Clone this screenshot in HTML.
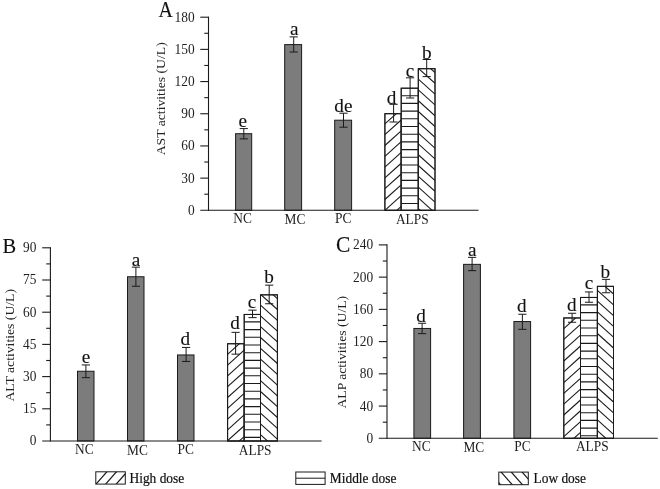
<!DOCTYPE html>
<html><head><meta charset="utf-8"><title>Figure</title>
<style>
html,body{margin:0;padding:0;background:#fff;}
body{width:660px;height:489px;overflow:hidden;}
svg{display:block;font-family:"Liberation Serif",serif;will-change:transform;}
svg text{fill:#222;stroke:none;}
svg text.G{fill:#111;stroke:#111;stroke-width:0.2px;}
svg text.L{fill:#111;stroke:#111;stroke-width:0.12px;}
</style></head><body>
<svg width="660" height="489" viewBox="0 0 660 489" stroke="#1a1a1a" fill="none">
<rect x="0" y="0" width="660" height="489" fill="#fff" stroke="none"/>
<rect x="235.60" y="133.70" width="16.10" height="76.60" fill="#7c7c7c" stroke-width="1.0"/>
<rect x="284.70" y="44.60" width="16.90" height="165.70" fill="#7c7c7c" stroke-width="1.0"/>
<rect x="334.70" y="120.20" width="16.90" height="90.10" fill="#7c7c7c" stroke-width="1.0"/>
<clipPath id="c1"><rect x="384.90" y="113.70" width="16.30" height="96.60"/></clipPath>
<rect x="384.90" y="113.70" width="16.30" height="96.60" fill="#fff" stroke-width="1.0"/>
<g clip-path="url(#c1)"><line x1="384.90" y1="80.70" x2="401.20" y2="66.03" stroke-width="1.1"/><line x1="384.90" y1="91.50" x2="401.20" y2="76.83" stroke-width="1.1"/><line x1="384.90" y1="102.30" x2="401.20" y2="87.63" stroke-width="1.1"/><line x1="384.90" y1="113.10" x2="401.20" y2="98.43" stroke-width="1.1"/><line x1="384.90" y1="123.90" x2="401.20" y2="109.23" stroke-width="1.1"/><line x1="384.90" y1="134.70" x2="401.20" y2="120.03" stroke-width="1.1"/><line x1="384.90" y1="145.50" x2="401.20" y2="130.83" stroke-width="1.1"/><line x1="384.90" y1="156.30" x2="401.20" y2="141.63" stroke-width="1.1"/><line x1="384.90" y1="167.10" x2="401.20" y2="152.43" stroke-width="1.1"/><line x1="384.90" y1="177.90" x2="401.20" y2="163.23" stroke-width="1.1"/><line x1="384.90" y1="188.70" x2="401.20" y2="174.03" stroke-width="1.1"/><line x1="384.90" y1="199.50" x2="401.20" y2="184.83" stroke-width="1.1"/><line x1="384.90" y1="210.30" x2="401.20" y2="195.63" stroke-width="1.1"/><line x1="384.90" y1="221.10" x2="401.20" y2="206.43" stroke-width="1.1"/><line x1="384.90" y1="231.90" x2="401.20" y2="217.23" stroke-width="1.1"/></g>
<rect x="384.90" y="113.70" width="16.30" height="96.60" fill="none" stroke-width="1.0"/>
<clipPath id="c2"><rect x="401.20" y="88.20" width="17.10" height="122.10"/></clipPath>
<rect x="401.20" y="88.20" width="17.10" height="122.10" fill="#fff" stroke-width="1.0"/>
<g clip-path="url(#c2)"><line x1="401.20" y1="95.70" x2="418.30" y2="95.70" stroke-width="1.1"/><line x1="401.20" y1="103.40" x2="418.30" y2="103.40" stroke-width="1.1"/><line x1="401.20" y1="111.10" x2="418.30" y2="111.10" stroke-width="1.1"/><line x1="401.20" y1="118.80" x2="418.30" y2="118.80" stroke-width="1.1"/><line x1="401.20" y1="126.50" x2="418.30" y2="126.50" stroke-width="1.1"/><line x1="401.20" y1="134.20" x2="418.30" y2="134.20" stroke-width="1.1"/><line x1="401.20" y1="141.90" x2="418.30" y2="141.90" stroke-width="1.1"/><line x1="401.20" y1="149.60" x2="418.30" y2="149.60" stroke-width="1.1"/><line x1="401.20" y1="157.30" x2="418.30" y2="157.30" stroke-width="1.1"/><line x1="401.20" y1="165.00" x2="418.30" y2="165.00" stroke-width="1.1"/><line x1="401.20" y1="172.70" x2="418.30" y2="172.70" stroke-width="1.1"/><line x1="401.20" y1="180.40" x2="418.30" y2="180.40" stroke-width="1.1"/><line x1="401.20" y1="188.10" x2="418.30" y2="188.10" stroke-width="1.1"/><line x1="401.20" y1="195.80" x2="418.30" y2="195.80" stroke-width="1.1"/><line x1="401.20" y1="203.50" x2="418.30" y2="203.50" stroke-width="1.1"/></g>
<rect x="401.20" y="88.20" width="17.10" height="122.10" fill="none" stroke-width="1.0"/>
<clipPath id="c3"><rect x="418.30" y="68.70" width="16.70" height="141.60"/></clipPath>
<rect x="418.30" y="68.70" width="16.70" height="141.60" fill="#fff" stroke-width="1.0"/>
<g clip-path="url(#c3)"><line x1="418.30" y1="35.90" x2="435.00" y2="50.93" stroke-width="1.1"/><line x1="418.30" y1="46.70" x2="435.00" y2="61.73" stroke-width="1.1"/><line x1="418.30" y1="57.50" x2="435.00" y2="72.53" stroke-width="1.1"/><line x1="418.30" y1="68.30" x2="435.00" y2="83.33" stroke-width="1.1"/><line x1="418.30" y1="79.10" x2="435.00" y2="94.13" stroke-width="1.1"/><line x1="418.30" y1="89.90" x2="435.00" y2="104.93" stroke-width="1.1"/><line x1="418.30" y1="100.70" x2="435.00" y2="115.73" stroke-width="1.1"/><line x1="418.30" y1="111.50" x2="435.00" y2="126.53" stroke-width="1.1"/><line x1="418.30" y1="122.30" x2="435.00" y2="137.33" stroke-width="1.1"/><line x1="418.30" y1="133.10" x2="435.00" y2="148.13" stroke-width="1.1"/><line x1="418.30" y1="143.90" x2="435.00" y2="158.93" stroke-width="1.1"/><line x1="418.30" y1="154.70" x2="435.00" y2="169.73" stroke-width="1.1"/><line x1="418.30" y1="165.50" x2="435.00" y2="180.53" stroke-width="1.1"/><line x1="418.30" y1="176.30" x2="435.00" y2="191.33" stroke-width="1.1"/><line x1="418.30" y1="187.10" x2="435.00" y2="202.13" stroke-width="1.1"/><line x1="418.30" y1="197.90" x2="435.00" y2="212.93" stroke-width="1.1"/><line x1="418.30" y1="208.70" x2="435.00" y2="223.73" stroke-width="1.1"/><line x1="418.30" y1="219.50" x2="435.00" y2="234.53" stroke-width="1.1"/><line x1="418.30" y1="230.30" x2="435.00" y2="245.33" stroke-width="1.1"/></g>
<rect x="418.30" y="68.70" width="16.70" height="141.60" fill="none" stroke-width="1.0"/>
<line x1="243.80" y1="128.60" x2="243.80" y2="138.90" stroke-width="1.0"/>
<line x1="239.70" y1="128.60" x2="247.90" y2="128.60" stroke-width="1.0"/>
<line x1="239.70" y1="138.90" x2="247.90" y2="138.90" stroke-width="1.0"/>
<text transform="translate(238.59,126.70) scale(1,1.02)" font-size="19.2" class="L">e</text>
<line x1="293.70" y1="36.90" x2="293.70" y2="52.00" stroke-width="1.0"/>
<line x1="289.60" y1="36.90" x2="297.80" y2="36.90" stroke-width="1.0"/>
<line x1="289.60" y1="52.00" x2="297.80" y2="52.00" stroke-width="1.0"/>
<text transform="translate(290.03,34.70) scale(1,1.02)" font-size="19.2" class="L">a</text>
<line x1="343.50" y1="113.20" x2="343.50" y2="127.20" stroke-width="1.0"/>
<line x1="339.40" y1="113.20" x2="347.60" y2="113.20" stroke-width="1.0"/>
<line x1="339.40" y1="127.20" x2="347.60" y2="127.20" stroke-width="1.0"/>
<text transform="translate(334.31,111.70) scale(1,1.02)" font-size="19.2" class="L">de</text>
<line x1="393.60" y1="104.30" x2="393.60" y2="122.00" stroke-width="1.0"/>
<line x1="389.50" y1="104.30" x2="397.70" y2="104.30" stroke-width="1.0"/>
<line x1="389.50" y1="122.00" x2="397.70" y2="122.00" stroke-width="1.0"/>
<text transform="translate(386.77,104.30) scale(1,1.02)" font-size="19.2" class="L">d</text>
<line x1="410.10" y1="77.80" x2="410.10" y2="98.00" stroke-width="1.0"/>
<line x1="406.00" y1="77.80" x2="414.20" y2="77.80" stroke-width="1.0"/>
<line x1="406.00" y1="98.00" x2="414.20" y2="98.00" stroke-width="1.0"/>
<text transform="translate(405.66,77.40) scale(1,1.02)" font-size="19.2" class="L">c</text>
<line x1="426.70" y1="59.50" x2="426.70" y2="76.60" stroke-width="1.0"/>
<line x1="422.60" y1="59.50" x2="430.80" y2="59.50" stroke-width="1.0"/>
<line x1="422.60" y1="76.60" x2="430.80" y2="76.60" stroke-width="1.0"/>
<text transform="translate(422.06,59.40) scale(1,1.02)" font-size="19.2" class="L">b</text>
<line x1="208.50" y1="16.65" x2="208.50" y2="210.85" stroke-width="1.1"/>
<line x1="200.30" y1="210.30" x2="478.50" y2="210.30" stroke-width="1.1"/>
<line x1="200.30" y1="17.20" x2="208.50" y2="17.20" stroke-width="1.1"/>
<line x1="204.30" y1="33.29" x2="208.50" y2="33.29" stroke-width="1.1"/>
<text transform="translate(174.54,21.65) scale(1,1.12)" font-size="13.4">180</text>
<line x1="200.30" y1="49.38" x2="208.50" y2="49.38" stroke-width="1.1"/>
<line x1="204.30" y1="65.48" x2="208.50" y2="65.48" stroke-width="1.1"/>
<text transform="translate(174.54,53.83) scale(1,1.12)" font-size="13.4">150</text>
<line x1="200.30" y1="81.57" x2="208.50" y2="81.57" stroke-width="1.1"/>
<line x1="204.30" y1="97.66" x2="208.50" y2="97.66" stroke-width="1.1"/>
<text transform="translate(174.54,86.02) scale(1,1.12)" font-size="13.4">120</text>
<line x1="200.30" y1="113.75" x2="208.50" y2="113.75" stroke-width="1.1"/>
<line x1="204.30" y1="129.84" x2="208.50" y2="129.84" stroke-width="1.1"/>
<text transform="translate(181.22,118.20) scale(1,1.12)" font-size="13.4">90</text>
<line x1="200.30" y1="145.93" x2="208.50" y2="145.93" stroke-width="1.1"/>
<line x1="204.30" y1="162.03" x2="208.50" y2="162.03" stroke-width="1.1"/>
<text transform="translate(181.22,150.38) scale(1,1.12)" font-size="13.4">60</text>
<line x1="200.30" y1="178.12" x2="208.50" y2="178.12" stroke-width="1.1"/>
<line x1="204.30" y1="194.21" x2="208.50" y2="194.21" stroke-width="1.1"/>
<text transform="translate(181.22,182.57) scale(1,1.12)" font-size="13.4">30</text>
<text transform="translate(187.91,214.75) scale(1,1.12)" font-size="13.4">0</text>
<text transform="translate(233.28,222.70) scale(1,1.12)" font-size="13.4">NC</text>
<text transform="translate(284.48,223.60) scale(1,1.12)" font-size="13.4">MC</text>
<text transform="translate(335.00,222.70) scale(1,1.12)" font-size="13.4">PC</text>
<text transform="translate(395.90,223.70) scale(1,1.12)" font-size="13.4">ALPS</text>
<text transform="translate(165.20,155.32) rotate(-90) scale(1,0.97)" font-size="13.7">AST activities (U/L)</text>
<text transform="translate(158.51,17.00) scale(1,1.135)" font-size="19.9" class="L">A</text>
<rect x="77.50" y="371.25" width="16.50" height="69.75" fill="#7c7c7c" stroke-width="1.0"/>
<rect x="127.50" y="276.75" width="16.50" height="164.25" fill="#7c7c7c" stroke-width="1.0"/>
<rect x="177.50" y="354.95" width="16.50" height="86.05" fill="#7c7c7c" stroke-width="1.0"/>
<clipPath id="c4"><rect x="227.60" y="343.75" width="16.60" height="97.25"/></clipPath>
<rect x="227.60" y="343.75" width="16.60" height="97.25" fill="#fff" stroke-width="1.0"/>
<g clip-path="url(#c4)"><line x1="227.60" y1="311.10" x2="244.20" y2="296.16" stroke-width="1.1"/><line x1="227.60" y1="321.90" x2="244.20" y2="306.96" stroke-width="1.1"/><line x1="227.60" y1="332.70" x2="244.20" y2="317.76" stroke-width="1.1"/><line x1="227.60" y1="343.50" x2="244.20" y2="328.56" stroke-width="1.1"/><line x1="227.60" y1="354.30" x2="244.20" y2="339.36" stroke-width="1.1"/><line x1="227.60" y1="365.10" x2="244.20" y2="350.16" stroke-width="1.1"/><line x1="227.60" y1="375.90" x2="244.20" y2="360.96" stroke-width="1.1"/><line x1="227.60" y1="386.70" x2="244.20" y2="371.76" stroke-width="1.1"/><line x1="227.60" y1="397.50" x2="244.20" y2="382.56" stroke-width="1.1"/><line x1="227.60" y1="408.30" x2="244.20" y2="393.36" stroke-width="1.1"/><line x1="227.60" y1="419.10" x2="244.20" y2="404.16" stroke-width="1.1"/><line x1="227.60" y1="429.90" x2="244.20" y2="414.96" stroke-width="1.1"/><line x1="227.60" y1="440.70" x2="244.20" y2="425.76" stroke-width="1.1"/><line x1="227.60" y1="451.50" x2="244.20" y2="436.56" stroke-width="1.1"/><line x1="227.60" y1="462.30" x2="244.20" y2="447.36" stroke-width="1.1"/></g>
<rect x="227.60" y="343.75" width="16.60" height="97.25" fill="none" stroke-width="1.0"/>
<clipPath id="c5"><rect x="244.20" y="314.45" width="16.30" height="126.55"/></clipPath>
<rect x="244.20" y="314.45" width="16.30" height="126.55" fill="#fff" stroke-width="1.0"/>
<g clip-path="url(#c5)"><line x1="244.20" y1="321.90" x2="260.50" y2="321.90" stroke-width="1.1"/><line x1="244.20" y1="329.60" x2="260.50" y2="329.60" stroke-width="1.1"/><line x1="244.20" y1="337.30" x2="260.50" y2="337.30" stroke-width="1.1"/><line x1="244.20" y1="345.00" x2="260.50" y2="345.00" stroke-width="1.1"/><line x1="244.20" y1="352.70" x2="260.50" y2="352.70" stroke-width="1.1"/><line x1="244.20" y1="360.40" x2="260.50" y2="360.40" stroke-width="1.1"/><line x1="244.20" y1="368.10" x2="260.50" y2="368.10" stroke-width="1.1"/><line x1="244.20" y1="375.80" x2="260.50" y2="375.80" stroke-width="1.1"/><line x1="244.20" y1="383.50" x2="260.50" y2="383.50" stroke-width="1.1"/><line x1="244.20" y1="391.20" x2="260.50" y2="391.20" stroke-width="1.1"/><line x1="244.20" y1="398.90" x2="260.50" y2="398.90" stroke-width="1.1"/><line x1="244.20" y1="406.60" x2="260.50" y2="406.60" stroke-width="1.1"/><line x1="244.20" y1="414.30" x2="260.50" y2="414.30" stroke-width="1.1"/><line x1="244.20" y1="422.00" x2="260.50" y2="422.00" stroke-width="1.1"/><line x1="244.20" y1="429.70" x2="260.50" y2="429.70" stroke-width="1.1"/><line x1="244.20" y1="437.40" x2="260.50" y2="437.40" stroke-width="1.1"/></g>
<rect x="244.20" y="314.45" width="16.30" height="126.55" fill="none" stroke-width="1.0"/>
<clipPath id="c6"><rect x="260.50" y="294.85" width="16.90" height="146.15"/></clipPath>
<rect x="260.50" y="294.85" width="16.90" height="146.15" fill="#fff" stroke-width="1.0"/>
<g clip-path="url(#c6)"><line x1="260.50" y1="261.90" x2="277.40" y2="277.11" stroke-width="1.1"/><line x1="260.50" y1="272.70" x2="277.40" y2="287.91" stroke-width="1.1"/><line x1="260.50" y1="283.50" x2="277.40" y2="298.71" stroke-width="1.1"/><line x1="260.50" y1="294.30" x2="277.40" y2="309.51" stroke-width="1.1"/><line x1="260.50" y1="305.10" x2="277.40" y2="320.31" stroke-width="1.1"/><line x1="260.50" y1="315.90" x2="277.40" y2="331.11" stroke-width="1.1"/><line x1="260.50" y1="326.70" x2="277.40" y2="341.91" stroke-width="1.1"/><line x1="260.50" y1="337.50" x2="277.40" y2="352.71" stroke-width="1.1"/><line x1="260.50" y1="348.30" x2="277.40" y2="363.51" stroke-width="1.1"/><line x1="260.50" y1="359.10" x2="277.40" y2="374.31" stroke-width="1.1"/><line x1="260.50" y1="369.90" x2="277.40" y2="385.11" stroke-width="1.1"/><line x1="260.50" y1="380.70" x2="277.40" y2="395.91" stroke-width="1.1"/><line x1="260.50" y1="391.50" x2="277.40" y2="406.71" stroke-width="1.1"/><line x1="260.50" y1="402.30" x2="277.40" y2="417.51" stroke-width="1.1"/><line x1="260.50" y1="413.10" x2="277.40" y2="428.31" stroke-width="1.1"/><line x1="260.50" y1="423.90" x2="277.40" y2="439.11" stroke-width="1.1"/><line x1="260.50" y1="434.70" x2="277.40" y2="449.91" stroke-width="1.1"/><line x1="260.50" y1="445.50" x2="277.40" y2="460.71" stroke-width="1.1"/><line x1="260.50" y1="456.30" x2="277.40" y2="471.51" stroke-width="1.1"/><line x1="260.50" y1="467.10" x2="277.40" y2="482.31" stroke-width="1.1"/></g>
<rect x="260.50" y="294.85" width="16.90" height="146.15" fill="none" stroke-width="1.0"/>
<line x1="85.90" y1="364.95" x2="85.90" y2="377.65" stroke-width="1.0"/>
<line x1="81.80" y1="364.95" x2="90.00" y2="364.95" stroke-width="1.0"/>
<line x1="81.80" y1="377.65" x2="90.00" y2="377.65" stroke-width="1.0"/>
<text transform="translate(81.69,363.25) scale(1,1.02)" font-size="19.2" class="L">e</text>
<line x1="135.90" y1="267.15" x2="135.90" y2="286.25" stroke-width="1.0"/>
<line x1="131.80" y1="267.15" x2="140.00" y2="267.15" stroke-width="1.0"/>
<line x1="131.80" y1="286.25" x2="140.00" y2="286.25" stroke-width="1.0"/>
<text transform="translate(131.73,265.75) scale(1,1.02)" font-size="19.2" class="L">a</text>
<line x1="186.10" y1="347.45" x2="186.10" y2="361.45" stroke-width="1.0"/>
<line x1="182.00" y1="347.45" x2="190.20" y2="347.45" stroke-width="1.0"/>
<line x1="182.00" y1="361.45" x2="190.20" y2="361.45" stroke-width="1.0"/>
<text transform="translate(180.57,344.65) scale(1,1.02)" font-size="19.2" class="L">d</text>
<line x1="235.60" y1="332.35" x2="235.60" y2="354.15" stroke-width="1.0"/>
<line x1="231.50" y1="332.35" x2="239.70" y2="332.35" stroke-width="1.0"/>
<line x1="231.50" y1="354.15" x2="239.70" y2="354.15" stroke-width="1.0"/>
<text transform="translate(230.37,329.25) scale(1,1.02)" font-size="19.2" class="L">d</text>
<line x1="252.50" y1="310.15" x2="252.50" y2="317.65" stroke-width="1.0"/>
<line x1="248.40" y1="310.15" x2="256.60" y2="310.15" stroke-width="1.0"/>
<line x1="248.40" y1="317.65" x2="256.60" y2="317.65" stroke-width="1.0"/>
<text transform="translate(247.86,307.75) scale(1,1.02)" font-size="19.2" class="L">c</text>
<line x1="269.20" y1="285.15" x2="269.20" y2="303.75" stroke-width="1.0"/>
<line x1="265.10" y1="285.15" x2="273.30" y2="285.15" stroke-width="1.0"/>
<line x1="265.10" y1="303.75" x2="273.30" y2="303.75" stroke-width="1.0"/>
<text transform="translate(264.26,283.25) scale(1,1.02)" font-size="19.2" class="L">b</text>
<line x1="50.40" y1="247.25" x2="50.40" y2="441.55" stroke-width="1.1"/>
<line x1="42.20" y1="441.00" x2="321.60" y2="441.00" stroke-width="1.1"/>
<line x1="42.20" y1="247.80" x2="50.40" y2="247.80" stroke-width="1.1"/>
<line x1="46.20" y1="263.90" x2="50.40" y2="263.90" stroke-width="1.1"/>
<text transform="translate(23.12,252.25) scale(1,1.12)" font-size="13.4">90</text>
<line x1="42.20" y1="280.00" x2="50.40" y2="280.00" stroke-width="1.1"/>
<line x1="46.20" y1="296.10" x2="50.40" y2="296.10" stroke-width="1.1"/>
<text transform="translate(23.12,284.45) scale(1,1.12)" font-size="13.4">75</text>
<line x1="42.20" y1="312.20" x2="50.40" y2="312.20" stroke-width="1.1"/>
<line x1="46.20" y1="328.30" x2="50.40" y2="328.30" stroke-width="1.1"/>
<text transform="translate(23.12,316.65) scale(1,1.12)" font-size="13.4">60</text>
<line x1="42.20" y1="344.40" x2="50.40" y2="344.40" stroke-width="1.1"/>
<line x1="46.20" y1="360.50" x2="50.40" y2="360.50" stroke-width="1.1"/>
<text transform="translate(23.12,348.85) scale(1,1.12)" font-size="13.4">45</text>
<line x1="42.20" y1="376.60" x2="50.40" y2="376.60" stroke-width="1.1"/>
<line x1="46.20" y1="392.70" x2="50.40" y2="392.70" stroke-width="1.1"/>
<text transform="translate(23.12,381.05) scale(1,1.12)" font-size="13.4">30</text>
<line x1="42.20" y1="408.80" x2="50.40" y2="408.80" stroke-width="1.1"/>
<line x1="46.20" y1="424.90" x2="50.40" y2="424.90" stroke-width="1.1"/>
<text transform="translate(23.12,413.25) scale(1,1.12)" font-size="13.4">15</text>
<text transform="translate(29.81,445.45) scale(1,1.12)" font-size="13.4">0</text>
<text transform="translate(74.97,454.00) scale(1,1.12)" font-size="13.4">NC</text>
<text transform="translate(126.98,454.90) scale(1,1.12)" font-size="13.4">MC</text>
<text transform="translate(177.60,454.00) scale(1,1.12)" font-size="13.4">PC</text>
<text transform="translate(238.80,454.90) scale(1,1.12)" font-size="13.4">ALPS</text>
<text transform="translate(14.40,401.52) rotate(-90) scale(1,0.97)" font-size="13.7">ALT activities (U/L)</text>
<text x="2.54" y="253.20" font-size="20.5" class="L">B</text>
<rect x="413.90" y="328.45" width="16.70" height="109.85" fill="#7c7c7c" stroke-width="1.0"/>
<rect x="463.60" y="264.35" width="16.80" height="173.95" fill="#7c7c7c" stroke-width="1.0"/>
<rect x="513.90" y="321.55" width="16.70" height="116.75" fill="#7c7c7c" stroke-width="1.0"/>
<clipPath id="c7"><rect x="563.80" y="317.95" width="16.70" height="120.35"/></clipPath>
<rect x="563.80" y="317.95" width="16.70" height="120.35" fill="#fff" stroke-width="1.0"/>
<g clip-path="url(#c7)"><line x1="563.80" y1="285.40" x2="580.50" y2="270.37" stroke-width="1.1"/><line x1="563.80" y1="296.20" x2="580.50" y2="281.17" stroke-width="1.1"/><line x1="563.80" y1="307.00" x2="580.50" y2="291.97" stroke-width="1.1"/><line x1="563.80" y1="317.80" x2="580.50" y2="302.77" stroke-width="1.1"/><line x1="563.80" y1="328.60" x2="580.50" y2="313.57" stroke-width="1.1"/><line x1="563.80" y1="339.40" x2="580.50" y2="324.37" stroke-width="1.1"/><line x1="563.80" y1="350.20" x2="580.50" y2="335.17" stroke-width="1.1"/><line x1="563.80" y1="361.00" x2="580.50" y2="345.97" stroke-width="1.1"/><line x1="563.80" y1="371.80" x2="580.50" y2="356.77" stroke-width="1.1"/><line x1="563.80" y1="382.60" x2="580.50" y2="367.57" stroke-width="1.1"/><line x1="563.80" y1="393.40" x2="580.50" y2="378.37" stroke-width="1.1"/><line x1="563.80" y1="404.20" x2="580.50" y2="389.17" stroke-width="1.1"/><line x1="563.80" y1="415.00" x2="580.50" y2="399.97" stroke-width="1.1"/><line x1="563.80" y1="425.80" x2="580.50" y2="410.77" stroke-width="1.1"/><line x1="563.80" y1="436.60" x2="580.50" y2="421.57" stroke-width="1.1"/><line x1="563.80" y1="447.40" x2="580.50" y2="432.37" stroke-width="1.1"/><line x1="563.80" y1="458.20" x2="580.50" y2="443.17" stroke-width="1.1"/></g>
<rect x="563.80" y="317.95" width="16.70" height="120.35" fill="none" stroke-width="1.0"/>
<clipPath id="c8"><rect x="580.50" y="297.45" width="16.90" height="140.85"/></clipPath>
<rect x="580.50" y="297.45" width="16.90" height="140.85" fill="#fff" stroke-width="1.0"/>
<g clip-path="url(#c8)"><line x1="580.50" y1="304.90" x2="597.40" y2="304.90" stroke-width="1.1"/><line x1="580.50" y1="312.60" x2="597.40" y2="312.60" stroke-width="1.1"/><line x1="580.50" y1="320.30" x2="597.40" y2="320.30" stroke-width="1.1"/><line x1="580.50" y1="328.00" x2="597.40" y2="328.00" stroke-width="1.1"/><line x1="580.50" y1="335.70" x2="597.40" y2="335.70" stroke-width="1.1"/><line x1="580.50" y1="343.40" x2="597.40" y2="343.40" stroke-width="1.1"/><line x1="580.50" y1="351.10" x2="597.40" y2="351.10" stroke-width="1.1"/><line x1="580.50" y1="358.80" x2="597.40" y2="358.80" stroke-width="1.1"/><line x1="580.50" y1="366.50" x2="597.40" y2="366.50" stroke-width="1.1"/><line x1="580.50" y1="374.20" x2="597.40" y2="374.20" stroke-width="1.1"/><line x1="580.50" y1="381.90" x2="597.40" y2="381.90" stroke-width="1.1"/><line x1="580.50" y1="389.60" x2="597.40" y2="389.60" stroke-width="1.1"/><line x1="580.50" y1="397.30" x2="597.40" y2="397.30" stroke-width="1.1"/><line x1="580.50" y1="405.00" x2="597.40" y2="405.00" stroke-width="1.1"/><line x1="580.50" y1="412.70" x2="597.40" y2="412.70" stroke-width="1.1"/><line x1="580.50" y1="420.40" x2="597.40" y2="420.40" stroke-width="1.1"/><line x1="580.50" y1="428.10" x2="597.40" y2="428.10" stroke-width="1.1"/><line x1="580.50" y1="435.80" x2="597.40" y2="435.80" stroke-width="1.1"/></g>
<rect x="580.50" y="297.45" width="16.90" height="140.85" fill="none" stroke-width="1.0"/>
<clipPath id="c9"><rect x="597.40" y="286.35" width="16.10" height="151.95"/></clipPath>
<rect x="597.40" y="286.35" width="16.10" height="151.95" fill="#fff" stroke-width="1.0"/>
<g clip-path="url(#c9)"><line x1="597.40" y1="247.10" x2="613.50" y2="261.59" stroke-width="1.1"/><line x1="597.40" y1="257.90" x2="613.50" y2="272.39" stroke-width="1.1"/><line x1="597.40" y1="268.70" x2="613.50" y2="283.19" stroke-width="1.1"/><line x1="597.40" y1="279.50" x2="613.50" y2="293.99" stroke-width="1.1"/><line x1="597.40" y1="290.30" x2="613.50" y2="304.79" stroke-width="1.1"/><line x1="597.40" y1="301.10" x2="613.50" y2="315.59" stroke-width="1.1"/><line x1="597.40" y1="311.90" x2="613.50" y2="326.39" stroke-width="1.1"/><line x1="597.40" y1="322.70" x2="613.50" y2="337.19" stroke-width="1.1"/><line x1="597.40" y1="333.50" x2="613.50" y2="347.99" stroke-width="1.1"/><line x1="597.40" y1="344.30" x2="613.50" y2="358.79" stroke-width="1.1"/><line x1="597.40" y1="355.10" x2="613.50" y2="369.59" stroke-width="1.1"/><line x1="597.40" y1="365.90" x2="613.50" y2="380.39" stroke-width="1.1"/><line x1="597.40" y1="376.70" x2="613.50" y2="391.19" stroke-width="1.1"/><line x1="597.40" y1="387.50" x2="613.50" y2="401.99" stroke-width="1.1"/><line x1="597.40" y1="398.30" x2="613.50" y2="412.79" stroke-width="1.1"/><line x1="597.40" y1="409.10" x2="613.50" y2="423.59" stroke-width="1.1"/><line x1="597.40" y1="419.90" x2="613.50" y2="434.39" stroke-width="1.1"/><line x1="597.40" y1="430.70" x2="613.50" y2="445.19" stroke-width="1.1"/><line x1="597.40" y1="441.50" x2="613.50" y2="455.99" stroke-width="1.1"/><line x1="597.40" y1="452.30" x2="613.50" y2="466.79" stroke-width="1.1"/><line x1="597.40" y1="463.10" x2="613.50" y2="477.59" stroke-width="1.1"/></g>
<rect x="597.40" y="286.35" width="16.10" height="151.95" fill="none" stroke-width="1.0"/>
<line x1="422.10" y1="323.25" x2="422.10" y2="333.65" stroke-width="1.0"/>
<line x1="418.00" y1="323.25" x2="426.20" y2="323.25" stroke-width="1.0"/>
<line x1="418.00" y1="333.65" x2="426.20" y2="333.65" stroke-width="1.0"/>
<text transform="translate(416.17,322.45) scale(1,1.02)" font-size="19.2" class="L">d</text>
<line x1="472.10" y1="257.35" x2="472.10" y2="270.65" stroke-width="1.0"/>
<line x1="468.00" y1="257.35" x2="476.20" y2="257.35" stroke-width="1.0"/>
<line x1="468.00" y1="270.65" x2="476.20" y2="270.65" stroke-width="1.0"/>
<text transform="translate(468.03,255.75) scale(1,1.02)" font-size="19.2" class="L">a</text>
<line x1="522.40" y1="314.25" x2="522.40" y2="329.35" stroke-width="1.0"/>
<line x1="518.30" y1="314.25" x2="526.50" y2="314.25" stroke-width="1.0"/>
<line x1="518.30" y1="329.35" x2="526.50" y2="329.35" stroke-width="1.0"/>
<text transform="translate(516.97,311.95) scale(1,1.02)" font-size="19.2" class="L">d</text>
<line x1="572.10" y1="313.25" x2="572.10" y2="322.25" stroke-width="1.0"/>
<line x1="568.00" y1="313.25" x2="576.20" y2="313.25" stroke-width="1.0"/>
<line x1="568.00" y1="322.25" x2="576.20" y2="322.25" stroke-width="1.0"/>
<text transform="translate(566.97,310.70) scale(1,1.02)" font-size="19.2" class="L">d</text>
<line x1="589.00" y1="291.95" x2="589.00" y2="302.25" stroke-width="1.0"/>
<line x1="584.90" y1="291.95" x2="593.10" y2="291.95" stroke-width="1.0"/>
<line x1="584.90" y1="302.25" x2="593.10" y2="302.25" stroke-width="1.0"/>
<text transform="translate(584.66,289.20) scale(1,1.02)" font-size="19.2" class="L">c</text>
<line x1="606.00" y1="279.35" x2="606.00" y2="292.75" stroke-width="1.0"/>
<line x1="601.90" y1="279.35" x2="610.10" y2="279.35" stroke-width="1.0"/>
<line x1="601.90" y1="292.75" x2="610.10" y2="292.75" stroke-width="1.0"/>
<text transform="translate(600.56,277.70) scale(1,1.02)" font-size="19.2" class="L">b</text>
<line x1="387.00" y1="244.35" x2="387.00" y2="438.85" stroke-width="1.1"/>
<line x1="378.80" y1="438.30" x2="657.80" y2="438.30" stroke-width="1.1"/>
<line x1="378.80" y1="244.90" x2="387.00" y2="244.90" stroke-width="1.1"/>
<line x1="382.80" y1="261.02" x2="387.00" y2="261.02" stroke-width="1.1"/>
<text transform="translate(353.04,249.35) scale(1,1.12)" font-size="13.4">240</text>
<line x1="378.80" y1="277.13" x2="387.00" y2="277.13" stroke-width="1.1"/>
<line x1="382.80" y1="293.25" x2="387.00" y2="293.25" stroke-width="1.1"/>
<text transform="translate(353.04,281.58) scale(1,1.12)" font-size="13.4">200</text>
<line x1="378.80" y1="309.37" x2="387.00" y2="309.37" stroke-width="1.1"/>
<line x1="382.80" y1="325.48" x2="387.00" y2="325.48" stroke-width="1.1"/>
<text transform="translate(353.04,313.82) scale(1,1.12)" font-size="13.4">160</text>
<line x1="378.80" y1="341.60" x2="387.00" y2="341.60" stroke-width="1.1"/>
<line x1="382.80" y1="357.72" x2="387.00" y2="357.72" stroke-width="1.1"/>
<text transform="translate(353.04,346.05) scale(1,1.12)" font-size="13.4">120</text>
<line x1="378.80" y1="373.83" x2="387.00" y2="373.83" stroke-width="1.1"/>
<line x1="382.80" y1="389.95" x2="387.00" y2="389.95" stroke-width="1.1"/>
<text transform="translate(359.73,378.28) scale(1,1.12)" font-size="13.4">80</text>
<line x1="378.80" y1="406.07" x2="387.00" y2="406.07" stroke-width="1.1"/>
<line x1="382.80" y1="422.18" x2="387.00" y2="422.18" stroke-width="1.1"/>
<text transform="translate(359.73,410.52) scale(1,1.12)" font-size="13.4">40</text>
<text transform="translate(366.41,442.75) scale(1,1.12)" font-size="13.4">0</text>
<text transform="translate(412.07,450.80) scale(1,1.12)" font-size="13.4">NC</text>
<text transform="translate(463.38,451.80) scale(1,1.12)" font-size="13.4">MC</text>
<text transform="translate(514.20,450.80) scale(1,1.12)" font-size="13.4">PC</text>
<text transform="translate(575.90,451.40) scale(1,1.12)" font-size="13.4">ALPS</text>
<text transform="translate(345.80,408.62) rotate(-90) scale(1,0.97)" font-size="13.7">ALP activities (U/L)</text>
<text transform="translate(336.02,251.50) scale(1,1.08)" font-size="21.5" class="L">C</text>
<clipPath id="c10"><rect x="95.80" y="471.80" width="29.50" height="12.30"/></clipPath>
<g clip-path="url(#c10)"><line x1="83.50" y1="484.60" x2="95.17" y2="471.30" stroke-width="1.2"/><line x1="95.60" y1="484.60" x2="107.27" y2="471.30" stroke-width="1.2"/><line x1="105.20" y1="484.60" x2="116.87" y2="471.30" stroke-width="1.2"/><line x1="115.80" y1="484.60" x2="127.47" y2="471.30" stroke-width="1.2"/></g>
<rect x="95.80" y="471.80" width="29.50" height="12.30" fill="none" stroke-width="1.0"/>
<text transform="translate(129.53,482.80) scale(1,1.06)" font-size="13.4" class="G">High dose</text>
<clipPath id="c11"><rect x="295.80" y="472.00" width="29.30" height="12.40"/></clipPath>
<g clip-path="url(#c11)"><line x1="295.3" y1="478.20" x2="325.6" y2="478.20" stroke-width="1.0"/></g>
<rect x="295.80" y="472.00" width="29.30" height="12.40" fill="none" stroke-width="1.0"/>
<text transform="translate(329.82,482.80) scale(1,1.06)" font-size="13.4" class="G">Middle dose</text>
<clipPath id="c12"><rect x="498.80" y="472.10" width="29.50" height="12.60"/></clipPath>
<g clip-path="url(#c12)"><line x1="489.00" y1="471.60" x2="500.93" y2="485.20" stroke-width="1.2"/><line x1="500.70" y1="471.60" x2="512.63" y2="485.20" stroke-width="1.2"/><line x1="510.90" y1="471.60" x2="522.83" y2="485.20" stroke-width="1.2"/><line x1="521.70" y1="471.60" x2="533.63" y2="485.20" stroke-width="1.2"/></g>
<rect x="498.80" y="472.10" width="29.50" height="12.60" fill="none" stroke-width="1.0"/>
<text transform="translate(533.52,483.20) scale(1,1.06)" font-size="13.4" class="G">Low dose</text>
</svg>
</body></html>
